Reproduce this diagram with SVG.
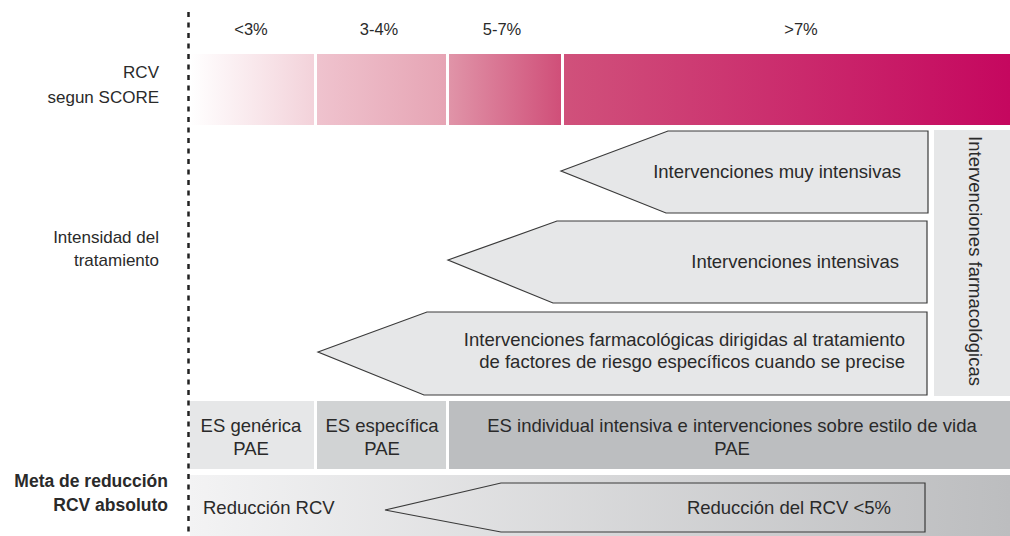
<svg xmlns="http://www.w3.org/2000/svg" width="1010" height="536" viewBox="0 0 1010 536">
<defs>
<linearGradient id="g1" x1="0" y1="0" x2="1" y2="0"><stop offset="0" stop-color="#ffffff"/><stop offset="1" stop-color="#f3d2da"/></linearGradient>
<linearGradient id="g2" x1="0" y1="0" x2="1" y2="0"><stop offset="0" stop-color="#efc3ce"/><stop offset="1" stop-color="#e6a4b4"/></linearGradient>
<linearGradient id="g3" x1="0" y1="0" x2="1" y2="0"><stop offset="0" stop-color="#e094a8"/><stop offset="1" stop-color="#d04f79"/></linearGradient>
<linearGradient id="g4" x1="0" y1="0" x2="1" y2="0"><stop offset="0" stop-color="#d0517b"/><stop offset="1" stop-color="#c5075f"/></linearGradient>
<linearGradient id="gm" x1="0" y1="0" x2="1" y2="0"><stop offset="0" stop-color="#f3f3f4"/><stop offset="1" stop-color="#bcbdbf"/></linearGradient>
<style>
text{font-family:"Liberation Sans",Arial,sans-serif;fill:#2a2a2a;}
.lbl{font-size:17px;text-anchor:end;}
.bold{font-size:17.5px;font-weight:bold;text-anchor:end;}
.pct{font-size:16.5px;text-anchor:middle;}
.body{font-size:18.5px;}
.end{text-anchor:end;}
.mid{text-anchor:middle;}
.arrow{fill:#e6e7e8;stroke:#3a3a3a;stroke-width:1.2;}
.arrowo{fill:none;stroke:#3a3a3a;stroke-width:1.2;}
</style>
</defs>
<rect width="1010" height="536" fill="#ffffff"/>

<g id="labels">
<text class="lbl" x="159" y="78">RCV</text>
<text class="lbl" x="159" y="103">segun SCORE</text>
<text class="lbl" x="159" y="243">Intensidad del</text>
<text class="lbl" x="159" y="266">tratamiento</text>
<text class="bold" x="168" y="487">Meta de reducción</text>
<text class="bold" x="168" y="511">RCV absoluto</text>
</g>

<g id="score-bar">
<rect x="190" y="54" width="124" height="71" fill="url(#g1)"/>
<rect x="317" y="54" width="129" height="71" fill="url(#g2)"/>
<rect x="449" y="54" width="112" height="71" fill="url(#g3)"/>
<rect x="564" y="54" width="446" height="71" fill="url(#g4)"/>
<text class="pct" x="251" y="35">&lt;3%</text>
<text class="pct" x="379" y="35">3-4%</text>
<text class="pct" x="502" y="35">5-7%</text>
<text class="pct" x="801" y="35">&gt;7%</text>
</g>

<g id="arrow-muy-intensivas">
<polygon class="arrow" points="561,171 668,131 928,131 928,213 666,213"/>
<text class="body end" x="901" y="178">Intervenciones muy intensivas</text>
</g>

<g id="arrow-intensivas">
<polygon class="arrow" points="448,260 557,221 927,221 927,303 553,303"/>
<text class="body end" x="899" y="268">Intervenciones intensivas</text>
</g>

<g id="arrow-farmacologicas">
<polygon class="arrow" points="318,352 427,312 927,312 927,395 424,395"/>
<text class="body end" x="905" y="346">Intervenciones farmacológicas dirigidas al tratamiento</text>
<text class="body end" x="905" y="368">de factores de riesgo específicos cuando se precise</text>
</g>

<g id="side-farmacologicas">
<rect x="934" y="130" width="76" height="266" fill="#e6e7e8"/>
<text class="body mid" transform="translate(969,261) rotate(90)">Intervenciones farmacológicas</text>
</g>

<g id="es-row">
<rect x="190" y="401" width="124" height="68" fill="#e6e7e8"/>
<rect x="317" y="401" width="129" height="68" fill="#d1d3d4"/>
<rect x="449" y="401" width="561" height="68" fill="#bcbec0"/>
<text class="body mid" x="251" y="432">ES genérica</text>
<text class="body mid" x="251" y="455">PAE</text>
<text class="body mid" x="382" y="432">ES específica</text>
<text class="body mid" x="382" y="455">PAE</text>
<text class="body mid" x="732" y="432">ES individual intensiva e intervenciones sobre estilo de vida</text>
<text class="body mid" x="732" y="455">PAE</text>
</g>

<g id="meta-row">
<rect x="190" y="475" width="820" height="61" fill="url(#gm)"/>
<text class="body" x="203" y="514" font-size="17.5">Reducción RCV</text>
<polygon class="arrowo" points="385,510 501,483 925,483 925,532 501,532"/>
<text class="body end" x="891" y="514">Reducción del RCV &lt;5%</text>
</g>

<g id="connectors">
<line x1="188.5" y1="12" x2="188.5" y2="536" stroke="#222222" stroke-width="2.5" stroke-dasharray="5 5.5"/>
</g>
</svg>
